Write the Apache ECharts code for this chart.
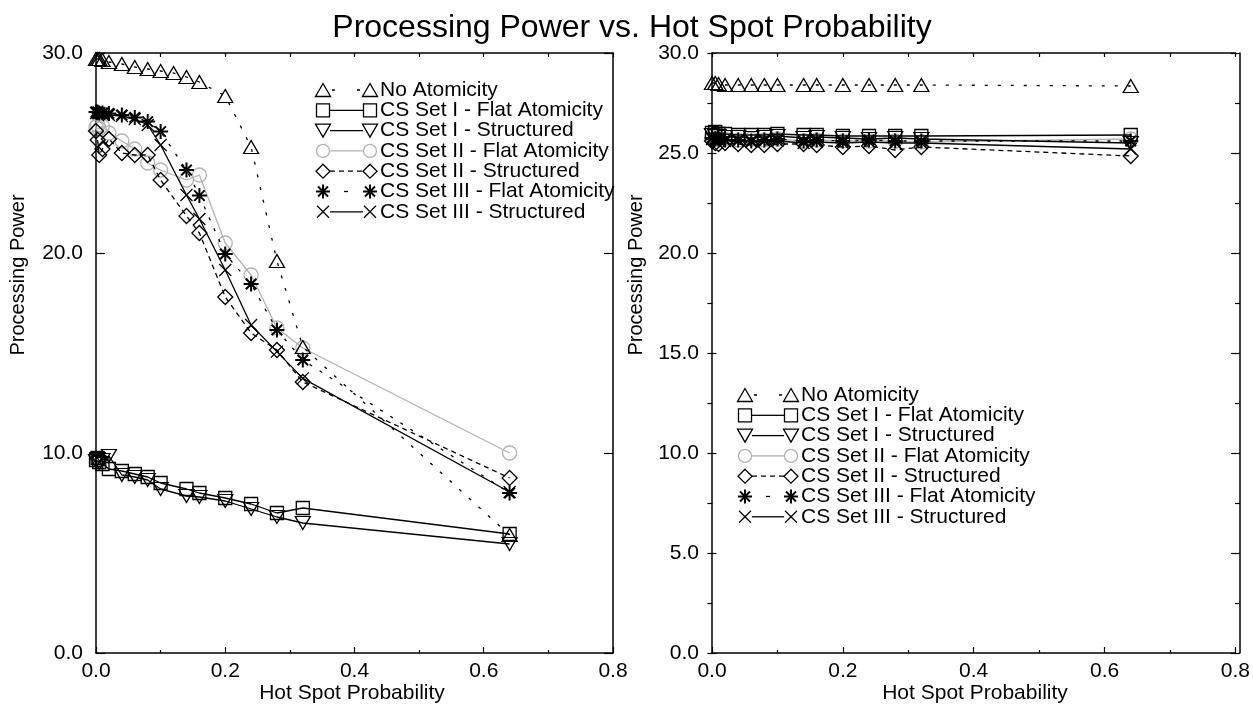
<!DOCTYPE html>
<html><head><meta charset="utf-8">
<script src="https://cdn.jsdelivr.net/npm/echarts@6/dist/echarts.min.js"></script>
<style>html,body{margin:0;padding:0;background:#fff}#c{width:1253px;height:704px}</style>
</head><body><div id="c"></div>
<script>
// ---------- DATA ----------
const seriesNames = [
  'No Atomicity',
  'CS Set I - Flat Atomicity',
  'CS Set I - Structured',
  'CS Set II - Flat Atomicity',
  'CS Set II - Structured',
  'CS Set III - Flat Atomicity',
  'CS Set III - Structured'
];
const chartTitle = 'Processing Power vs. Hot Spot Probability';
const xAxisName = 'Hot Spot Probability';
const yAxisName = 'Processing Power';

// left panel
const xLeft = [0, 0.0025, 0.005, 0.01, 0.02, 0.04, 0.06, 0.08, 0.10, 0.12, 0.14, 0.16, 0.20, 0.24, 0.28, 0.32, 0.64];
const noAtomL   = [29.7, 29.7, 29.7, 29.65, 29.55, 29.45, 29.3, 29.2, 29.1, 29.0, 28.8, 28.55, 27.85, 25.3, 19.6, 15.3, 5.9];
const set1FlatL = [9.65, 9.75, 9.55, 9.45, 9.2, 9.1, 8.95, 8.8, 8.5, null, 8.2, 8.0, 7.75, 7.45, 7.0, 7.25, 5.95];
const set1StrL  = [9.6, 9.7, 9.5, 9.65, 9.85, 8.9, 8.8, 8.65, 8.2, null, 7.85, 7.8, 7.6, 7.2, 6.8, 6.5, 5.45];
const set2FlatL = [26.3, 26.4, 26.2, 26.35, 26.0, 25.6, 25.2, 24.5, 24.15, null, 23.65, 23.9, 20.5, 18.9, 16.25, 15.25, 10.0];
const set2StrL  = [26.1, 25.65, 24.9, 25.2, 25.7, 25.0, 24.9, 24.9, 23.65, null, 21.85, 21.0, 17.8, 16.0, 15.15, 13.55, 8.75];
const set3FlatL = [27.05, 27.05, 27.0, 27.0, 26.98, 26.9, 26.78, 26.57, 26.07, null, 24.15, 22.87, 19.95, 18.45, 16.15, 14.65, 8.0];
const set3StrL  = [27.0, 27.0, 27.0, 26.95, 26.9, 26.85, 26.7, 26.4, 25.4, null, 22.9, 21.7, 19.15, 16.4, 15.07, 13.73, 8.05];

// right panel
const xRight = [0, 0.005, 0.01, 0.02, 0.04, 0.06, 0.08, 0.10, 0.14, 0.16, 0.20, 0.24, 0.28, 0.32, 0.64];
const noAtomR   = [28.5, 28.5, 28.45, 28.4, 28.4, 28.4, 28.4, 28.4, 28.4, 28.4, 28.4, 28.4, 28.4, 28.4, 28.35];
const set1FlatR = [26.0, 26.05, 25.95, 25.95, 25.9, 25.9, 25.9, 25.95, 25.9, 25.9, 25.85, 25.85, 25.85, 25.85, 25.9];
const set1StrR  = [25.9, 25.85, 25.85, 25.8, 25.8, 25.75, 25.8, 25.85, 25.75, 25.8, 25.75, 25.7, 25.75, 25.7, 25.5];
const set2FlatR = [25.8, 25.75, 25.7, 25.7, 25.65, 25.7, 25.65, 25.7, 25.6, 25.65, 25.6, 25.6, 25.6, 25.55, 25.7];
const set2StrR  = [25.6, 25.5, 25.45, 25.5, 25.45, 25.4, 25.4, 25.45, 25.45, 25.4, 25.3, 25.35, 25.15, 25.3, 24.85];
const set3FlatR = [25.75, 25.7, 25.7, 25.65, 25.65, 25.6, 25.65, 25.7, 25.6, 25.65, 25.6, 25.65, 25.6, 25.6, 25.6];
const set3StrR  = [25.7, 25.7, 25.65, 25.6, 25.6, 25.55, 25.6, 25.6, 25.5, 25.55, 25.5, 25.55, 25.5, 25.5, 25.2];

const leftValues  = [noAtomL, set1FlatL, set1StrL, set2FlatL, set2StrL, set3FlatL, set3StrL];
const rightValues = [noAtomR, set1FlatR, set1StrR, set2FlatR, set2StrR, set3FlatR, set3StrR];

const xTicksMajor = [0, 0.8, 0.2];      // min, max, interval
const yTicksLeft  = [0, 30, 10];
const yTicksRight = [0, 30, 5];

// ---------- STYLE ----------
const FONT = '"Liberation Sans", Arial, sans-serif';
const GRAY = '#b3b3b3';
const ASTER = 'path://M6 0L6 12M0 6L12 6M1.8 1.8L10.2 10.2M10.2 1.8L1.8 10.2';
const XMARK = 'path://M0 0L12 12M12 0L0 12';
const styles = [
  {kind:'tri',  symbol:'triangle', size:[15,13], rot:0,   color:'#000', dash:[3,10], bw:1.3, ldash:[3,22], loff:0, lpad:9},
  {kind:'rect', symbol:'rect',     size:[13,13], rot:0,   color:'#000', dash:'solid', bw:1.3},
  {kind:'trid', symbol:'triangle', size:[15,13], rot:180, color:'#000', dash:'solid', bw:1.3},
  {kind:'circ', symbol:'circle',   size:[14,14], rot:0,   color:GRAY,   dash:'solid', bw:1.3},
  {kind:'diam', symbol:'diamond',  size:[15,15], rot:0,   color:'#000', dash:[5,4], bw:1.3, ldash:[5,4], loff:0},
  {kind:'ast',  symbol:ASTER,      size:[15,15], rot:0,   color:'#000', dash:[3,9], bw:2.0, ldash:[4,40], loff:-14},
  {kind:'x',    symbol:XMARK,      size:[12,12], rot:0,   color:'#000', dash:'solid', bw:1.3}
];

const grids = [
  {left:96, top:53, width:517, height:600},
  {left:712, top:53, width:528, height:600}
];

function pairs(xs, ys){ const out=[]; for(let i=0;i<xs.length;i++){ if(ys[i]!=null) out.push([xs[i], ys[i]]); } return out; }

const axisLineStyle = {color:'#000', width:1.5};
const tickStyle = {color:'#000', width:1.2};
// Inward ticks are produced by axes placed on the opposite side and offset across the grid.
function xAxes(gi){
  const H = grids[gi].height;
  const base = {gridIndex:gi, type:'value', min:xTicksMajor[0], max:xTicksMajor[1], splitLine:{show:false}, minorSplitLine:{show:false}};
  return [
    Object.assign({}, base, {position:'bottom', interval:xTicksMajor[2],
      axisLine:{show:true, onZero:false, lineStyle:axisLineStyle}, axisTick:{show:false}, minorTick:{show:false},
      axisLabel:{show:true, color:'#000', fontSize:21, fontFamily:FONT, margin:8, formatter:v=>v.toFixed(1)}}),
    Object.assign({}, base, {position:'top', offset:-H, interval:xTicksMajor[2],
      axisLine:{show:false, onZero:false}, axisTick:{show:true, length:6, lineStyle:tickStyle},
      minorTick:{show:true, splitNumber:2, length:3, lineStyle:tickStyle}, axisLabel:{show:false}}),
    Object.assign({}, base, {position:'bottom', offset:-H, interval:0.1,
      axisLine:{show:true, onZero:false, lineStyle:axisLineStyle}, axisTick:{show:true, length:4, lineStyle:tickStyle},
      minorTick:{show:false}, axisLabel:{show:false}})
  ];
}
function yAxes(gi, t){
  const W = grids[gi].width;
  const minor = gi===1;
  const base = {gridIndex:gi, type:'value', min:t[0], max:t[1], interval:t[2], splitLine:{show:false}, minorSplitLine:{show:false}};
  return [
    Object.assign({}, base, {position:'left',
      axisLine:{show:true, onZero:false, lineStyle:axisLineStyle}, axisTick:{show:false}, minorTick:{show:false},
      axisLabel:{show:true, color:'#000', fontSize:21, fontFamily:FONT, margin:13, formatter:v=>v.toFixed(1)}}),
    Object.assign({}, base, {position:'right', offset:-W,
      axisLine:{show:false, onZero:false}, axisTick:{show:true, length:9, lineStyle:tickStyle},
      minorTick:{show:minor, splitNumber:2, length:5, lineStyle:tickStyle}, axisLabel:{show:false}}),
    Object.assign({}, base, {position:'left', offset:-W,
      axisLine:{show:true, onZero:false, lineStyle:axisLineStyle}, axisTick:{show:true, length:9, lineStyle:tickStyle},
      minorTick:{show:minor, splitNumber:2, length:5, lineStyle:tickStyle}, axisLabel:{show:false}})
  ];
}

const series = [];
[[xLeft, leftValues], [xRight, rightValues]].forEach(([xs, vals], gi) => {
  vals.forEach((ys, si) => {
    const s = styles[si];
    series.push({
      type:'line', name:seriesNames[si], xAxisIndex:gi*3, yAxisIndex:gi*3,
      data:pairs(xs, ys), symbol:s.symbol, symbolSize:s.size, symbolRotate:s.rot,
      showSymbol:true, clip:false, silent:true, animation:false,
      lineStyle:{color:s.color, width:1.3, type:s.dash},
      itemStyle:{color:'rgba(0,0,0,0)', borderColor:s.color, borderWidth:s.bw},
      emphasis:{disabled:true}, z: 2 + (si===3 ? 0 : 1)
    });
  });
});

// ---------- legend built from graphic elements ----------
function marker(kind, cx, cy, color, bw){
  const st = {fill:'none', stroke:color, lineWidth:bw};
  switch(kind){
    case 'tri':  return [{type:'polygon', shape:{points:[[cx-7.5,cy+6.5],[cx+7.5,cy+6.5],[cx,cy-6.5]]}, style:st}];
    case 'trid': return [{type:'polygon', shape:{points:[[cx-7.5,cy-6.5],[cx+7.5,cy-6.5],[cx,cy+6.5]]}, style:st}];
    case 'rect': return [{type:'rect', shape:{x:cx-6.5,y:cy-6.5,width:13,height:13}, style:st}];
    case 'circ': return [{type:'circle', shape:{cx:cx,cy:cy,r:6.5}, style:st}];
    case 'diam': return [{type:'polygon', shape:{points:[[cx,cy-7],[cx+7,cy],[cx,cy+7],[cx-7,cy]]}, style:st}];
    case 'ast': { const r=7, d=5; return [
      {type:'line', shape:{x1:cx,y1:cy-r,x2:cx,y2:cy+r}, style:st},
      {type:'line', shape:{x1:cx-r,y1:cy,x2:cx+r,y2:cy}, style:st},
      {type:'line', shape:{x1:cx-d,y1:cy-d,x2:cx+d,y2:cy+d}, style:st},
      {type:'line', shape:{x1:cx+d,y1:cy-d,x2:cx-d,y2:cy+d}, style:st}]; }
    case 'x': { const r=6; return [
      {type:'line', shape:{x1:cx-r,y1:cy-r,x2:cx+r,y2:cy+r}, style:st},
      {type:'line', shape:{x1:cx+r,y1:cy-r,x2:cx-r,y2:cy+r}, style:st}]; }
  }
  return [];
}
function legendBlock(x1, x2, tx, y0, dy){
  const els = [];
  seriesNames.forEach((name, i) => {
    const s = styles[i], cy = y0 + i*dy;
    const dash = s.dash === 'solid' ? null : s.ldash;
    const pad = s.lpad || 7;
    els.push({type:'line', shape:{x1:x1+pad, y1:cy, x2:x2-7, y2:cy},
      style:{stroke:s.color, lineWidth:1.3, lineDash:dash, lineDashOffset:s.loff||0}});
    marker(s.kind, x1, cy, s.color, s.bw).forEach(e=>els.push(e));
    marker(s.kind, x2, cy, s.color, s.bw).forEach(e=>els.push(e));
    els.push({type:'text', x:tx, y:cy, style:{text:name, fontSize:21, fontFamily:FONT, fill:'#000', verticalAlign:'middle', align:'left'}});
  });
  return els;
}

const graphics = [
  {type:'text', x:632, y:28, style:{text:chartTitle, fontSize:32, fontFamily:FONT, fill:'#000', align:'center', verticalAlign:'middle'}},
  {type:'text', x:18, y:275, rotation:Math.PI/2, style:{text:yAxisName, fontSize:20, fontFamily:FONT, fill:'#000', align:'center', verticalAlign:'middle'}},
  {type:'text', x:636, y:275, rotation:Math.PI/2, style:{text:yAxisName, fontSize:20, fontFamily:FONT, fill:'#000', align:'center', verticalAlign:'middle'}},
  {type:'text', x:352, y:693, style:{text:xAxisName, fontSize:21, fontFamily:FONT, fill:'#000', align:'center', verticalAlign:'middle'}},
  {type:'text', x:975, y:693, style:{text:xAxisName, fontSize:21, fontFamily:FONT, fill:'#000', align:'center', verticalAlign:'middle'}}
].concat(legendBlock(323, 370, 380, 90, 20.3), legendBlock(745, 791, 801, 395, 20.3));

const chart = echarts.init(document.getElementById('c'), null, {renderer:'canvas'});
chart.setOption({
  animation:false,
  backgroundColor:'#fff',
  grid:grids,
  xAxis:xAxes(0).concat(xAxes(1)),
  yAxis:yAxes(0, yTicksLeft).concat(yAxes(1, yTicksRight)),
  series:series,
  graphic:{elements:graphics}
});
</script>
</body></html>
